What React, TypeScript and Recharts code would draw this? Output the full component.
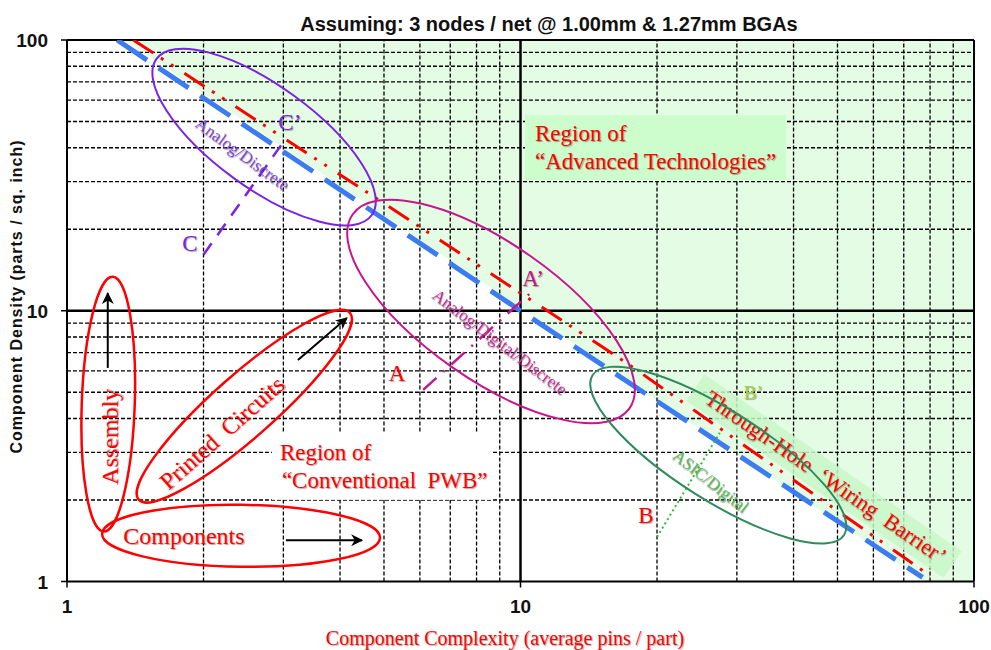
import React from 'react'
import { ComposedChart, XAxis, YAxis, ReferenceLine, Line, Area, Scatter } from 'recharts'

const SANS = '"Liberation Sans", Arial, sans-serif'
const SERIF = '"Liberation Serif", "Times New Roman", serif'

const DECADES = [1, 10, 100]
const MINOR_GRID = [2, 3, 4, 5, 6, 7, 8, 9, 20, 30, 40, 50, 60, 70, 80, 90]

// everything above this edge is the shaded "advanced" region
const ADVANCED_EDGE = [{ x: 1.34, y: 100 }, { x: 78, y: 1 }, { x: 100, y: 1 }]

// the two wiring-barrier limit lines
const BLUE_LIMIT = [{ x: 1.29, y: 100 }, { x: 10, y: 10 }, { x: 77, y: 1.035 }]
const RED_LIMIT = [{ x: 1.4, y: 100 }, { x: 5.08, y: 24.5 }, { x: 17.2, y: 6.39 }, { x: 80, y: 1.05 }]

// C-C', A-A', B-B' markers
const C_MARK = [{ x: 2.0, y: 16.1 }, { x: 3.0, y: 42 }]
const A_MARK = [{ x: 6.1, y: 5.1 }, { x: 10.5, y: 11.6 }]
const B_MARK = [{ x: 20, y: 1.46 }, { x: 27.5, y: 3.54 }]

// trend arrows
const ARROW_ASSY = [{ x: 1.23, y: 6.15 }, { x: 1.23, y: 11.6 }]
const ARROW_PCB = [{ x: 3.23, y: 6.58 }, { x: 4.14, y: 9.4 }]
const ARROW_COMP = [{ x: 3.04, y: 1.42 }, { x: 4.47, y: 1.42 }]

// ellipse centres
const ELLIPSES = [
  { id: 'analogDiscrete', x: 2.72, y: 43.8 },
  { id: 'analogDigital', x: 8.61, y: 9.94 },
  { id: 'asic', x: 27.3, y: 2.93 },
  { id: 'assembly', x: 1.233, y: 4.52 },
  { id: 'pcb', x: 2.46, y: 4.44 },
  { id: 'components', x: 2.42, y: 1.475 },
]

// text notes (anchor = text centre)
const NOTES = [
  { id: 'C', text: 'C', x: 1.867, y: 17.8 },
  { id: 'C2', text: 'C\u2019', x: 3.1, y: 49.8 },
  { id: 'A', text: 'A', x: 5.34, y: 5.89 },
  { id: 'A2', text: 'A\u2019', x: 10.66, y: 13.2 },
  { id: 'B', text: 'B', x: 18.9, y: 1.76 },
  { id: 'B2', text: 'B\u2019', x: 32.6, y: 4.97 },
  { id: 'assembly', text: 'Assembly', x: 1.244, y: 3.42 },
  { id: 'pcb', text: 'Printed\u00a0\u00a0Circuits', x: 2.197, y: 3.54 },
  { id: 'components', text: 'Components', x: 1.811, y: 1.473 },
  { id: 'analogDiscrete', text: 'Analog/Discrete', x: 2.44, y: 37.9 },
  { id: 'analogDigital', text: 'Analog/Digital/Discrete', x: 9.01, y: 7.67 },
  { id: 'asic', text: 'ASIC/Digital', x: 26.3, y: 2.35 },
]

// boxed region labels (anchor = top-left corner, wiring = centre)
const BOX_ADV = [{ x: 10.23, y: 52.8 }]
const BOX_PWB = [{ x: 2.83, y: 3.54 }]
const BOX_WIRING = [{ x: 46.7, y: 2.45 }]

const RED = '#ff0000'
const PURPLE = '#7a22e6'
const MAGENTA = '#c8158e'
const SEA = '#2f8a5c'
const BLUE = '#3d7cf0'
const SHADOW = '1px 1px 1px rgba(0,0,0,0.35)'

const ELLIPSE_STYLE: Record<string, { rx: number; ry: number; angle: number; color: string; w: number }> = {
  analogDiscrete: { rx: 133, ry: 51, angle: 36, color: PURPLE, w: 2 },
  analogDigital: { rx: 169, ry: 68, angle: 35, color: MAGENTA, w: 2 },
  asic: { rx: 149, ry: 45, angle: 32.4, color: SEA, w: 2 },
  assembly: { rx: 127.5, ry: 26.5, angle: -88, color: RED, w: 2.5 },
  pcb: { rx: 141, ry: 31, angle: -41.5, color: RED, w: 2.5 },
  components: { rx: 139, ry: 31, angle: 0.8, color: RED, w: 2.5 },
}

const NOTE_STYLE: Record<string, { size: number; color: string; angle: number }> = {
  C: { size: 23, color: PURPLE, angle: 0 },
  C2: { size: 23, color: PURPLE, angle: 0 },
  A: { size: 23, color: RED, angle: 0 },
  A2: { size: 23, color: MAGENTA, angle: 0 },
  B: { size: 23, color: RED, angle: 0 },
  B2: { size: 19, color: '#a6cf3c', angle: 0 },
  assembly: { size: 24, color: RED, angle: -90 },
  pcb: { size: 24, color: RED, angle: -41.5 },
  components: { size: 24, color: RED, angle: 0 },
  analogDiscrete: { size: 17, color: '#8048d8', angle: 36 },
  analogDigital: { size: 17, color: '#c4309a', angle: 37 },
  asic: { size: 17, color: '#55bb55', angle: 38 },
}

const ellipseShape = (id: string) => (p: any) => {
  const s = ELLIPSE_STYLE[id]
  return (
    <ellipse cx={p.cx} cy={p.cy} rx={s.rx} ry={s.ry} fill="none" stroke={s.color} strokeWidth={s.w}
      transform={`rotate(${s.angle} ${p.cx} ${p.cy})`} />
  )
}

const noteShape = (id: string, text: string) => (p: any) => {
  const s = NOTE_STYLE[id]
  return (
    <text x={p.cx} y={p.cy} dy={s.size * 0.34} textAnchor="middle" fontFamily={SERIF} fontSize={s.size}
      fill={s.color} style={{ textShadow: SHADOW }} transform={`rotate(${s.angle} ${p.cx} ${p.cy})`}>
      {text}
    </text>
  )
}

const advBox = (p: any) => (
  <g transform={`translate(${p.cx} ${p.cy})`}>
    <rect x={0} y={0} width={261} height={65} fill="#cdfccd" />
    <text x={10} y={26} fontFamily={SERIF} fontSize={23} fill={RED} style={{ textShadow: SHADOW }}>Region{'\u00a0'}of</text>
    <text x={10} y={54} fontFamily={SERIF} fontSize={23} fill={RED} style={{ textShadow: SHADOW }}>{'\u201cAdvanced Technologies\u201d'}</text>
  </g>
)

const pwbBox = (p: any) => (
  <g transform={`translate(${p.cx} ${p.cy})`}>
    <rect x={0} y={0} width={220} height={67} fill="#ffffff" />
    <text x={8} y={27} fontFamily={SERIF} fontSize={23} fill={RED} style={{ textShadow: SHADOW }}>Region of</text>
    <text x={10} y={55} fontFamily={SERIF} fontSize={23} fill={RED} style={{ textShadow: SHADOW }}>{'\u201cConventional\u00a0\u00a0PWB\u201d'}</text>
  </g>
)

const wiringBox = (p: any) => (
  <g transform={`translate(${p.cx} ${p.cy}) rotate(34.5)`}>
    <rect x={-156} y={-16} width={312} height={32} fill="#c8f7c8" fillOpacity={0.85} />
    <text x={2} y={7} textAnchor="middle" fontFamily={SERIF} fontSize={22} fill={RED} style={{ textShadow: SHADOW }}>
      {'Through-Hole\u00a0\u00a0\u2018Wiring\u00a0\u00a0Barrier\u2019'}
    </text>
  </g>
)

const xTick = (p: any) => (
  <text x={p.x} y={613} textAnchor="middle" fontFamily={SANS} fontWeight="bold" fontSize={19} fill="#111">
    {p.payload.value}
  </text>
)

const yTick = (p: any) => (
  <text x={48} y={p.y + 7} textAnchor="end" fontFamily={SANS} fontWeight="bold" fontSize={19} fill="#111">
    {p.payload.value}
  </text>
)

const seg = (data: any[], stroke: string, width: number, dash?: string, marker?: string) => (
  <Line data={data} dataKey="y" type="linear" stroke={stroke} strokeWidth={width} strokeDasharray={dash}
    dot={false} activeDot={false} isAnimationActive={false} legendType="none" markerEnd={marker} />
)

export default function App() {
  return (
    <div style={{ position: 'absolute', left: 0, top: 0, width: 991, height: 650, background: '#fff' }}>
      <svg width={0} height={0} style={{ position: 'absolute' }}>
        <defs>
          <marker id="arrowHead" viewBox="0 0 10 10" refX="9" refY="5" markerWidth="13" markerHeight="12"
            markerUnits="userSpaceOnUse" orient="auto">
            <path d="M0,0 L10,5 L0,10 L3,5 Z" fill="#000" />
          </marker>
        </defs>
      </svg>
      <ComposedChart width={991} height={650} margin={{ top: 40, right: 17, bottom: 0, left: 0 }}>
        <XAxis dataKey="x" type="number" scale="log" domain={[1, 100]} ticks={DECADES} allowDataOverflow
          height={68.5} tick={xTick} tickSize={6} axisLine={{ stroke: '#000', strokeWidth: 2 }}
          tickLine={{ stroke: '#000', strokeWidth: 1.5 }} />
        <YAxis dataKey="y" type="number" scale="log" domain={[1, 100]} ticks={DECADES} allowDataOverflow
          width={67} tick={yTick} tickSize={6} axisLine={{ stroke: '#000', strokeWidth: 2 }}
          tickLine={{ stroke: '#000', strokeWidth: 1.5 }} />

        <Area data={ADVANCED_EDGE} dataKey="y" type="linear" baseValue="dataMax" fill="#e4fbe4" fillOpacity={1}
          stroke="none" isAnimationActive={false} legendType="none" dot={false} activeDot={false} />

        {MINOR_GRID.map(v => (
          <ReferenceLine key={`vx${v}`} x={v} stroke="#000" strokeWidth={1.3} strokeDasharray="4 2" />
        ))}
        {MINOR_GRID.map(v => (
          <ReferenceLine key={`hy${v}`} y={v} stroke="#000" strokeWidth={1.3} strokeDasharray="4 2" />
        ))}
        <ReferenceLine x={10} stroke="#000" strokeWidth={2.5} />
        <ReferenceLine y={10} stroke="#000" strokeWidth={2.5} />
        <ReferenceLine x={100} stroke="#000" strokeWidth={2} />
        <ReferenceLine y={100} stroke="#000" strokeWidth={2} />

        <Scatter data={BOX_ADV} dataKey="y" shape={advBox} isAnimationActive={false} legendType="none" />
        <Scatter data={BOX_PWB} dataKey="y" shape={pwbBox} isAnimationActive={false} legendType="none" />
        <Scatter data={BOX_WIRING} dataKey="y" shape={wiringBox} isAnimationActive={false} legendType="none" />

        {seg(BLUE_LIMIT, BLUE, 5, '36 14')}
        {seg(RED_LIMIT, RED, 3, '24 9 3 9 3 13')}
        {seg(C_MARK, PURPLE, 2.5, '14 10')}
        {seg(A_MARK, MAGENTA, 2.5, '18 9 2 9')}
        {seg(B_MARK, '#33bb33', 2, '2 3')}
        {seg(ARROW_ASSY, '#000', 2, undefined, 'url(#arrowHead)')}
        {seg(ARROW_PCB, '#000', 2, undefined, 'url(#arrowHead)')}
        {seg(ARROW_COMP, '#000', 2, undefined, 'url(#arrowHead)')}

        {ELLIPSES.map(e => (
          <Scatter key={e.id} data={[e]} dataKey="y" shape={ellipseShape(e.id)} isAnimationActive={false} legendType="none" />
        ))}
        {NOTES.map(n => (
          <Scatter key={`n${n.id}`} data={[n]} dataKey="y" shape={noteShape(n.id, n.text)} isAnimationActive={false} legendType="none" />
        ))}

        <text x={549} y={31} textAnchor="middle" fontFamily={SANS} fontWeight="bold" fontSize={20} fill="#111">
          {'Assuming:  3 nodes / net @ 1.00mm & 1.27mm BGAs'}
        </text>
        <text x={22} y={297} textAnchor="middle" fontFamily={SANS} fontWeight="bold" fontSize={16} fill="#111"
          textLength={313} lengthAdjust="spacing" transform="rotate(-90 22 297)">
          Component Density (parts / sq. inch)
        </text>
        <text x={505} y={645} textAnchor="middle" fontFamily={SERIF} fontSize={20} fill={RED}
          style={{ textShadow: SHADOW }}>
          Component Complexity (average pins / part)
        </text>
      </ComposedChart>
    </div>
  )
}
